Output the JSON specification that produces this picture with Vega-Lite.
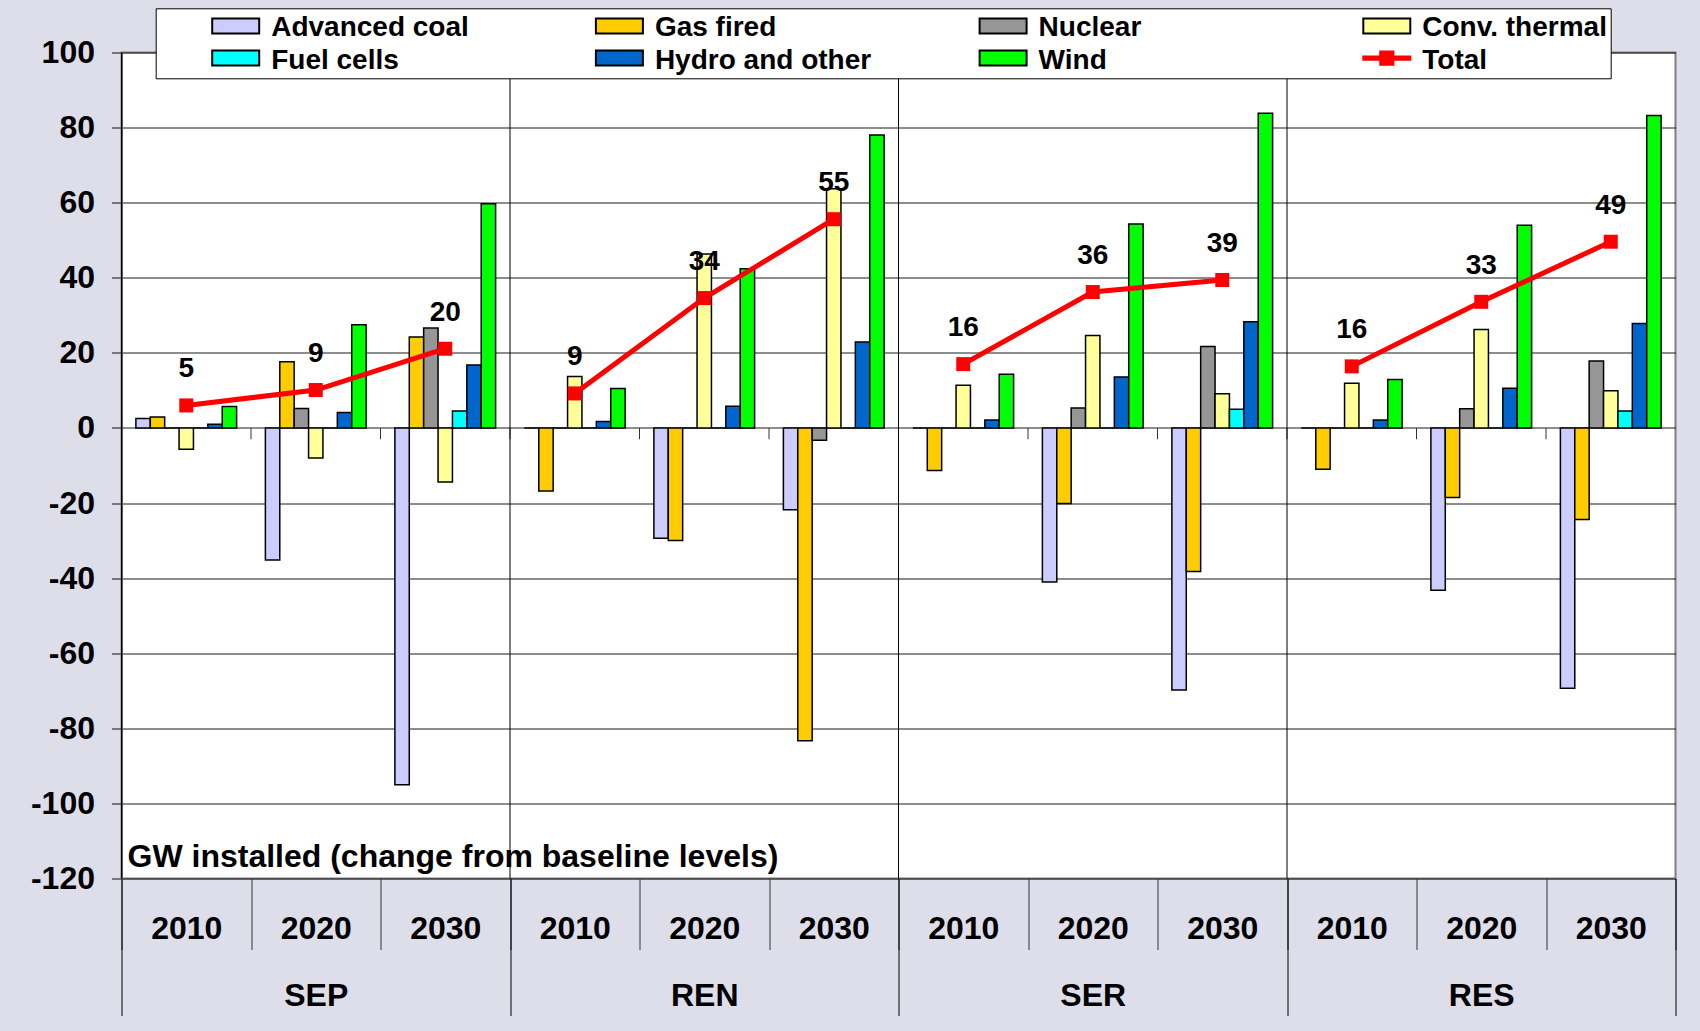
{
  "$schema": "https://vega.github.io/schema/vega-lite/v6.json",
  "width": 1554,
  "height": 826,
  "autosize": {"type": "none"},
  "padding": {"left": 121.5, "top": 52.5, "right": 24.5, "bottom": 152.5},
  "background": "#dddeea",
  "config": {
    "font": "Liberation Sans",
    "view": {"fill": "white", "stroke": "#7f7f7f", "strokeWidth": 2},
    "axis": {"labelFont": "Liberation Sans", "titleFont": "Liberation Sans"}
  },
  "datasets": {
    "bars": [
      {"scenario": "SEP", "year": "2010", "cat": "SEP|2010", "source": "Advanced coal", "value": 2.5},
      {"scenario": "SEP", "year": "2010", "cat": "SEP|2010", "source": "Gas fired", "value": 2.9},
      {"scenario": "SEP", "year": "2010", "cat": "SEP|2010", "source": "Nuclear", "value": 0},
      {"scenario": "SEP", "year": "2010", "cat": "SEP|2010", "source": "Conv. thermal", "value": -5.7},
      {"scenario": "SEP", "year": "2010", "cat": "SEP|2010", "source": "Fuel cells", "value": 0},
      {"scenario": "SEP", "year": "2010", "cat": "SEP|2010", "source": "Hydro and other", "value": 1.0},
      {"scenario": "SEP", "year": "2010", "cat": "SEP|2010", "source": "Wind", "value": 5.7},
      {"scenario": "SEP", "year": "2020", "cat": "SEP|2020", "source": "Advanced coal", "value": -35.2},
      {"scenario": "SEP", "year": "2020", "cat": "SEP|2020", "source": "Gas fired", "value": 17.6},
      {"scenario": "SEP", "year": "2020", "cat": "SEP|2020", "source": "Nuclear", "value": 5.2},
      {"scenario": "SEP", "year": "2020", "cat": "SEP|2020", "source": "Conv. thermal", "value": -8.0},
      {"scenario": "SEP", "year": "2020", "cat": "SEP|2020", "source": "Fuel cells", "value": 0},
      {"scenario": "SEP", "year": "2020", "cat": "SEP|2020", "source": "Hydro and other", "value": 4.1},
      {"scenario": "SEP", "year": "2020", "cat": "SEP|2020", "source": "Wind", "value": 27.5},
      {"scenario": "SEP", "year": "2030", "cat": "SEP|2030", "source": "Advanced coal", "value": -95.0},
      {"scenario": "SEP", "year": "2030", "cat": "SEP|2030", "source": "Gas fired", "value": 24.2},
      {"scenario": "SEP", "year": "2030", "cat": "SEP|2030", "source": "Nuclear", "value": 26.6},
      {"scenario": "SEP", "year": "2030", "cat": "SEP|2030", "source": "Conv. thermal", "value": -14.4},
      {"scenario": "SEP", "year": "2030", "cat": "SEP|2030", "source": "Fuel cells", "value": 4.5},
      {"scenario": "SEP", "year": "2030", "cat": "SEP|2030", "source": "Hydro and other", "value": 16.8},
      {"scenario": "SEP", "year": "2030", "cat": "SEP|2030", "source": "Wind", "value": 59.7},
      {"scenario": "REN", "year": "2010", "cat": "REN|2010", "source": "Advanced coal", "value": 0},
      {"scenario": "REN", "year": "2010", "cat": "REN|2010", "source": "Gas fired", "value": -16.8},
      {"scenario": "REN", "year": "2010", "cat": "REN|2010", "source": "Nuclear", "value": 0},
      {"scenario": "REN", "year": "2010", "cat": "REN|2010", "source": "Conv. thermal", "value": 13.7},
      {"scenario": "REN", "year": "2010", "cat": "REN|2010", "source": "Fuel cells", "value": 0},
      {"scenario": "REN", "year": "2010", "cat": "REN|2010", "source": "Hydro and other", "value": 1.7},
      {"scenario": "REN", "year": "2010", "cat": "REN|2010", "source": "Wind", "value": 10.5},
      {"scenario": "REN", "year": "2020", "cat": "REN|2020", "source": "Advanced coal", "value": -29.4},
      {"scenario": "REN", "year": "2020", "cat": "REN|2020", "source": "Gas fired", "value": -30.0},
      {"scenario": "REN", "year": "2020", "cat": "REN|2020", "source": "Nuclear", "value": 0},
      {"scenario": "REN", "year": "2020", "cat": "REN|2020", "source": "Conv. thermal", "value": 46.3},
      {"scenario": "REN", "year": "2020", "cat": "REN|2020", "source": "Fuel cells", "value": 0},
      {"scenario": "REN", "year": "2020", "cat": "REN|2020", "source": "Hydro and other", "value": 5.8},
      {"scenario": "REN", "year": "2020", "cat": "REN|2020", "source": "Wind", "value": 42.4},
      {"scenario": "REN", "year": "2030", "cat": "REN|2030", "source": "Advanced coal", "value": -21.8},
      {"scenario": "REN", "year": "2030", "cat": "REN|2030", "source": "Gas fired", "value": -83.3},
      {"scenario": "REN", "year": "2030", "cat": "REN|2030", "source": "Nuclear", "value": -3.3},
      {"scenario": "REN", "year": "2030", "cat": "REN|2030", "source": "Conv. thermal", "value": 63.7},
      {"scenario": "REN", "year": "2030", "cat": "REN|2030", "source": "Fuel cells", "value": 0},
      {"scenario": "REN", "year": "2030", "cat": "REN|2030", "source": "Hydro and other", "value": 22.9},
      {"scenario": "REN", "year": "2030", "cat": "REN|2030", "source": "Wind", "value": 78.0},
      {"scenario": "SER", "year": "2010", "cat": "SER|2010", "source": "Advanced coal", "value": 0},
      {"scenario": "SER", "year": "2010", "cat": "SER|2010", "source": "Gas fired", "value": -11.3},
      {"scenario": "SER", "year": "2010", "cat": "SER|2010", "source": "Nuclear", "value": 0},
      {"scenario": "SER", "year": "2010", "cat": "SER|2010", "source": "Conv. thermal", "value": 11.4},
      {"scenario": "SER", "year": "2010", "cat": "SER|2010", "source": "Fuel cells", "value": 0},
      {"scenario": "SER", "year": "2010", "cat": "SER|2010", "source": "Hydro and other", "value": 2.1},
      {"scenario": "SER", "year": "2010", "cat": "SER|2010", "source": "Wind", "value": 14.3},
      {"scenario": "SER", "year": "2020", "cat": "SER|2020", "source": "Advanced coal", "value": -41.0},
      {"scenario": "SER", "year": "2020", "cat": "SER|2020", "source": "Gas fired", "value": -20.1},
      {"scenario": "SER", "year": "2020", "cat": "SER|2020", "source": "Nuclear", "value": 5.3},
      {"scenario": "SER", "year": "2020", "cat": "SER|2020", "source": "Conv. thermal", "value": 24.6},
      {"scenario": "SER", "year": "2020", "cat": "SER|2020", "source": "Fuel cells", "value": 0},
      {"scenario": "SER", "year": "2020", "cat": "SER|2020", "source": "Hydro and other", "value": 13.6},
      {"scenario": "SER", "year": "2020", "cat": "SER|2020", "source": "Wind", "value": 54.3},
      {"scenario": "SER", "year": "2030", "cat": "SER|2030", "source": "Advanced coal", "value": -69.8},
      {"scenario": "SER", "year": "2030", "cat": "SER|2030", "source": "Gas fired", "value": -38.2},
      {"scenario": "SER", "year": "2030", "cat": "SER|2030", "source": "Nuclear", "value": 21.7},
      {"scenario": "SER", "year": "2030", "cat": "SER|2030", "source": "Conv. thermal", "value": 9.1},
      {"scenario": "SER", "year": "2030", "cat": "SER|2030", "source": "Fuel cells", "value": 5.0},
      {"scenario": "SER", "year": "2030", "cat": "SER|2030", "source": "Hydro and other", "value": 28.3},
      {"scenario": "SER", "year": "2030", "cat": "SER|2030", "source": "Wind", "value": 83.8},
      {"scenario": "RES", "year": "2010", "cat": "RES|2010", "source": "Advanced coal", "value": 0},
      {"scenario": "RES", "year": "2010", "cat": "RES|2010", "source": "Gas fired", "value": -11.0},
      {"scenario": "RES", "year": "2010", "cat": "RES|2010", "source": "Nuclear", "value": 0},
      {"scenario": "RES", "year": "2010", "cat": "RES|2010", "source": "Conv. thermal", "value": 11.9},
      {"scenario": "RES", "year": "2010", "cat": "RES|2010", "source": "Fuel cells", "value": 0},
      {"scenario": "RES", "year": "2010", "cat": "RES|2010", "source": "Hydro and other", "value": 2.1},
      {"scenario": "RES", "year": "2010", "cat": "RES|2010", "source": "Wind", "value": 12.9},
      {"scenario": "RES", "year": "2020", "cat": "RES|2020", "source": "Advanced coal", "value": -43.2},
      {"scenario": "RES", "year": "2020", "cat": "RES|2020", "source": "Gas fired", "value": -18.5},
      {"scenario": "RES", "year": "2020", "cat": "RES|2020", "source": "Nuclear", "value": 5.1},
      {"scenario": "RES", "year": "2020", "cat": "RES|2020", "source": "Conv. thermal", "value": 26.2},
      {"scenario": "RES", "year": "2020", "cat": "RES|2020", "source": "Fuel cells", "value": 0},
      {"scenario": "RES", "year": "2020", "cat": "RES|2020", "source": "Hydro and other", "value": 10.6},
      {"scenario": "RES", "year": "2020", "cat": "RES|2020", "source": "Wind", "value": 54.0},
      {"scenario": "RES", "year": "2030", "cat": "RES|2030", "source": "Advanced coal", "value": -69.3},
      {"scenario": "RES", "year": "2030", "cat": "RES|2030", "source": "Gas fired", "value": -24.4},
      {"scenario": "RES", "year": "2030", "cat": "RES|2030", "source": "Nuclear", "value": 17.8},
      {"scenario": "RES", "year": "2030", "cat": "RES|2030", "source": "Conv. thermal", "value": 9.9},
      {"scenario": "RES", "year": "2030", "cat": "RES|2030", "source": "Fuel cells", "value": 4.5},
      {"scenario": "RES", "year": "2030", "cat": "RES|2030", "source": "Hydro and other", "value": 27.8},
      {"scenario": "RES", "year": "2030", "cat": "RES|2030", "source": "Wind", "value": 83.2}
    ],
    "totals": [
      {"scenario": "SEP", "year": "2010", "cat": "SEP|2010", "total": 6.0, "label": "5"},
      {"scenario": "SEP", "year": "2020", "cat": "SEP|2020", "total": 10.1, "label": "9"},
      {"scenario": "SEP", "year": "2030", "cat": "SEP|2030", "total": 21.1, "label": "20"},
      {"scenario": "REN", "year": "2010", "cat": "REN|2010", "total": 9.2, "label": "9"},
      {"scenario": "REN", "year": "2020", "cat": "REN|2020", "total": 34.6, "label": "34"},
      {"scenario": "REN", "year": "2030", "cat": "REN|2030", "total": 55.6, "label": "55"},
      {"scenario": "SER", "year": "2010", "cat": "SER|2010", "total": 17.0, "label": "16"},
      {"scenario": "SER", "year": "2020", "cat": "SER|2020", "total": 36.2, "label": "36"},
      {"scenario": "SER", "year": "2030", "cat": "SER|2030", "total": 39.4, "label": "39"},
      {"scenario": "RES", "year": "2010", "cat": "RES|2010", "total": 16.4, "label": "16"},
      {"scenario": "RES", "year": "2020", "cat": "RES|2020", "total": 33.6, "label": "33"},
      {"scenario": "RES", "year": "2030", "cat": "RES|2030", "total": 49.6, "label": "49"}
    ],
    "scenarios": [
      {"scenario": "SEP"}, {"scenario": "REN"}, {"scenario": "SER"}, {"scenario": "RES"}
    ]
  },
  "layer": [
    {
      "encoding": {
        "x": {
          "field": "cat", "type": "nominal",
          "scale": {
            "domain": ["SEP|2010", "SEP|2020", "SEP|2030", "REN|2010", "REN|2020", "REN|2030", "SER|2010", "SER|2020", "SER|2030", "RES|2010", "RES|2020", "RES|2030"],
            "paddingInner": 0, "paddingOuter": 0
          },
          "axis": {
            "orient": "bottom", "title": null, "labelExpr": "split(datum.value, '|')[1]",
            "tickBand": "extent", "tickSize": 71, "tickColor": "#333333", "tickWidth": 1,
            "labelFontSize": 32, "labelFontWeight": "bold", "labelColor": "black",
            "labelPadding": -36, "labelAngle": 0, "domain": false, "grid": false
          }
        }
      },
      "layer": [
        {
          "data": {"name": "bars"},
          "mark": {"type": "bar", "stroke": "black", "strokeWidth": 1.5},
          "encoding": {
            "xOffset": {
              "field": "source", "type": "nominal",
              "scale": {"domain": ["Advanced coal", "Gas fired", "Nuclear", "Conv. thermal", "Fuel cells", "Hydro and other", "Wind"], "paddingInner": 0, "paddingOuter": 2.5}
            },
            "y": {
              "field": "value", "type": "quantitative",
              "scale": {"domain": [-120, 100], "nice": false, "zero": false},
              "axis": {
                "values": [-120, -100, -80, -60, -40, -20, 0, 20, 40, 60, 80, 100],
                "labelExpr": "'' + datum.value",
                "title": "GW installed (change from baseline levels)",
                "titleAngle": 0, "titleX": 5.5, "titleY": 813.5, "titleAlign": "left", "titleBaseline": "alphabetic",
                "titleFontSize": 32, "titleFontWeight": "bold", "titleColor": "black",
                "labelFontSize": 32, "labelFontWeight": "bold", "labelColor": "black", "labelPadding": 17,
                "tickSize": 10, "tickColor": "#555555", "tickWidth": 1.5,
                "domainColor": "#555555", "domainWidth": 2,
                "grid": true, "gridColor": "#1a1a1a", "gridWidth": 1
              }
            },
            "color": {
              "field": "source", "type": "nominal",
              "scale": {
                "domain": ["Advanced coal", "Gas fired", "Nuclear", "Conv. thermal", "Fuel cells", "Hydro and other", "Wind", "Total"],
                "range": ["#ccccff", "#ffcc00", "#969696", "#ffff99", "#00ffff", "#0066cc", "#00ff00", "#ff0000"]
              },
              "legend": {
                "title": null, "orient": "none", "legendX": 34.2, "legendY": -44.2,
                "direction": "horizontal",
                "columns": 4, "gridAlign": "all", "columnPadding": 54.7, "rowPadding": 1.5,
                "clipHeight": 27.5,
                "fillColor": "white", "strokeColor": "black", "padding": 3.5,
                "labelFontSize": 28, "labelFontWeight": "bold", "labelColor": "black", "labelFont": "Liberation Sans", "labelLimit": 400,
                "symbolType": "M-1,-0.32H1V0.32H-1Z", "symbolSize": 2209,
                "symbolStrokeColor": "black", "symbolStrokeWidth": 2,
                "symbolOffset": 52, "labelOffset": 11,
                "encode": {
                  "symbols": {
                    "update": {
                      "shape": {"signal": "datum.value === 'Total' ? 'M-1,-0.07H1V0.07H-1Z M-0.28,-0.28H0.28V0.28H-0.28Z' : 'M-1,-0.32H1V0.32H-1Z'"},
                      "stroke": {"signal": "datum.value === 'Total' ? '#ff0000' : '#000000'"},
                      "strokeWidth": {"value": 2}
                    }
                  },
                  "labels": {
                    "update": {"dy": {"value": 2.5}}
                  }
                }
              }
            }
          }
        },
        {
          "data": {"name": "totals"},
          "mark": {"type": "rule", "color": "#333333", "strokeWidth": 1},
          "encoding": {
            "x": {"field": "cat", "type": "nominal", "bandPosition": 0},
            "y": {"datum": 0},
            "y2": {"datum": -3}
          }
        },
        {
          "data": {"name": "totals"},
          "mark": {"type": "line", "color": "#ff0000", "strokeWidth": 5},
          "encoding": {
            "y": {"field": "total", "type": "quantitative"},
            "detail": {"field": "scenario", "type": "nominal"}
          }
        },
        {
          "data": {"name": "totals"},
          "mark": {"type": "square", "color": "#ff0000", "size": 196, "opacity": 1, "filled": true},
          "encoding": {
            "y": {"field": "total", "type": "quantitative"}
          }
        },
        {
          "data": {"name": "totals"},
          "mark": {"type": "text", "fontSize": 28, "fontWeight": "bold", "color": "black", "baseline": "middle", "align": "center", "dy": -36, "font": "Liberation Sans"},
          "encoding": {
            "y": {"field": "total", "type": "quantitative"},
            "text": {"field": "label", "type": "nominal"}
          }
        }
      ]
    },
    {
      "data": {"name": "scenarios"},
      "mark": {"type": "rule", "color": "black", "strokeWidth": 1},
      "encoding": {
        "x": {
          "field": "scenario", "type": "nominal", "bandPosition": 0,
          "scale": {"domain": ["SEP", "REN", "SER", "RES"], "paddingInner": 0, "paddingOuter": 0},
          "axis": {
            "orient": "bottom", "title": null, "tickBand": "extent", "tickSize": 137,
            "tickColor": "black", "tickWidth": 1,
            "labelFontSize": 32, "labelFontWeight": "bold", "labelColor": "black",
            "labelPadding": -35, "labelAngle": 0, "domain": false, "grid": false
          }
        }
      }
    }
  ],
  "resolve": {"scale": {"x": "independent"}, "axis": {"x": "independent"}}
}
